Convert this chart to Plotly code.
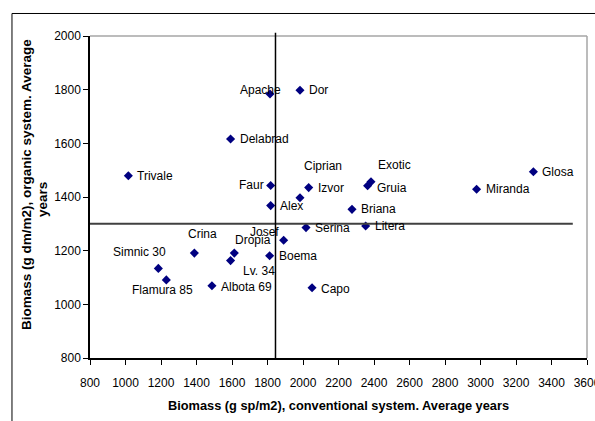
import plotly.graph_objects as go

# ---- data ----
names = ["Apache", "Dor", "Delabrad", "Trivale", "Faur", "Ciprian", "Izvor", "Exotic",
         "Gruia", "Glosa", "Miranda", "Alex", "Serina", "Josef", "Crina", "Dropia",
         "Lv. 34", "Boema", "Simnic 30", "Flamura 85", "Albota 69", "Capo", "Briana", "Litera"]
conv = [1814, 1983, 1592, 1016, 1818, 1983, 2032, 2383,
        2364, 3298, 2978, 1818, 2017, 1891, 1388, 1613,
        1592, 1812, 1185, 1230, 1487, 2051, 2276, 2353]
org = [1784, 1798, 1616, 1479, 1443, 1397, 1435, 1457,
       1442, 1494, 1429, 1368, 1286, 1239, 1191, 1191,
       1163, 1181, 1134, 1091, 1069, 1062, 1354, 1292]
x_ticks = list(range(800, 3601, 200))
y_ticks = list(range(800, 2001, 200))
x_ref_line = 1845
y_ref_line = 1300
x_title = "Biomass (g sp/m2), conventional system. Average years"
y_title_line1 = "Biomass (g dm/m2), organic system. Average"
y_title_line2 = "years"

# label placement (styling): name -> (xanchor, xshift, yshift)
label_style = {
    "Apache": ("center", -9, 4), "Dor": ("left", 7, 0), "Delabrad": ("left", 7, 0),
    "Trivale": ("left", 7, 0), "Faur": ("right", -5, 0), "Ciprian": ("left", 2, 32),
    "Izvor": ("left", 7, 0), "Exotic": ("left", 5, 17), "Gruia": ("left", 7, -2),
    "Glosa": ("left", 7, 0), "Miranda": ("left", 7, 0), "Alex": ("left", 7, 0),
    "Serina": ("left", 7, 0), "Josef": ("right", -3, 8), "Crina": ("center", 8, 19),
    "Dropia": ("center", 19, 13), "Lv. 34": ("left", 10, -10), "Boema": ("left", 7, 0),
    "Simnic 30": ("right", 10, 16), "Flamura 85": ("center", -4, -10),
    "Albota 69": ("left", 7, -1), "Capo": ("left", 7, -1), "Briana": ("left", 7, 0),
    "Litera": ("left", 7, 0),
}

FONT = "Liberation Sans, Arial, sans-serif"

fig = go.Figure()
fig.add_trace(go.Scatter(
    x=conv, y=org, mode="markers",
    marker=dict(symbol="diamond", size=7, color="#000080"),
    cliponaxis=False, showlegend=False, hoverinfo="x+y",
))

annotations = []
for n, xv, yv in zip(names, conv, org):
    xa, xs, ys = label_style[n]
    annotations.append(dict(
        x=xv, y=yv, xref="x", yref="y", text=n, showarrow=False,
        xanchor=xa, yanchor="middle", xshift=xs, yshift=ys,
        font=dict(family=FONT, size=12, color="#000000"),
    ))

# y axis title (two lines, placed as in the original)
annotations.append(dict(x=-0.1268, y=0.5404, xref="paper", yref="paper",
                        text=f"<b>{y_title_line1}</b>", textangle=-90, showarrow=False,
                        xanchor="center", yanchor="middle",
                        font=dict(family=FONT, size=13.5, color="black")))
annotations.append(dict(x=-0.0946, y=0.4938, xref="paper", yref="paper",
                        text=f"<b>{y_title_line2}</b>", textangle=-90, showarrow=False,
                        xanchor="center", yanchor="middle",
                        font=dict(family=FONT, size=13.5, color="black")))

shapes = [
    # outer chart frame (left and top edges visible)
    dict(type="line", xref="paper", yref="paper", x0=-0.157, x1=-0.157, y0=-0.3, y1=1.0699,
         line=dict(color="black", width=1)),
    dict(type="line", xref="paper", yref="paper", x0=-0.157, x1=1.1, y0=1.0699, y1=1.0699,
         line=dict(color="black", width=1)),
    # plot area top/right border
    dict(type="line", xref="paper", yref="paper", x0=0, x1=1, y0=1, y1=1,
         line=dict(color="#a6a6a6", width=1.5)),
    dict(type="line", xref="paper", yref="paper", x0=1, x1=1, y0=0, y1=1,
         line=dict(color="#a6a6a6", width=1.5)),
    # reference lines
    dict(type="line", xref="x", yref="y", x0=800, x1=3520, y0=y_ref_line, y1=y_ref_line,
         line=dict(color="#404040", width=2)),
    dict(type="line", xref="x", yref="paper", x0=x_ref_line, x1=x_ref_line, y0=0, y1=1.01,
         line=dict(color="black", width=1.5)),
]

fig.update_layout(
    width=595, height=421,
    margin=dict(l=90, r=8, t=36, b=63),
    paper_bgcolor="white", plot_bgcolor="white",
    font=dict(family=FONT, size=12, color="black"),
    annotations=annotations, shapes=shapes,
    xaxis=dict(range=[800, 3600.01], tickvals=x_ticks, ticks="outside", ticklen=5,
               tickcolor="black", showline=True, linecolor="black", linewidth=1.5,
               showgrid=False, zeroline=False, automargin=False,
               ticklabelstandoff=8, ticklabeloverflow="allow",
               tickfont=dict(family=FONT, size=12, color="black"),
               title=dict(text=f"<b>{x_title}</b>", standoff=12,
                          font=dict(family=FONT, size=12.8, color="black"))),
    yaxis=dict(range=[800, 2000], tickvals=y_ticks, ticks="outside", ticklen=5,
               tickcolor="black", showline=True, linecolor="black", linewidth=1.5,
               showgrid=False, zeroline=False, automargin=False,
               tickfont=dict(family=FONT, size=12, color="black")),
)

fig.write_html("out.html",
               config={"displayModeBar": False},
               post_script="document.body.style.margin='0';document.body.style.overflow='hidden';")
